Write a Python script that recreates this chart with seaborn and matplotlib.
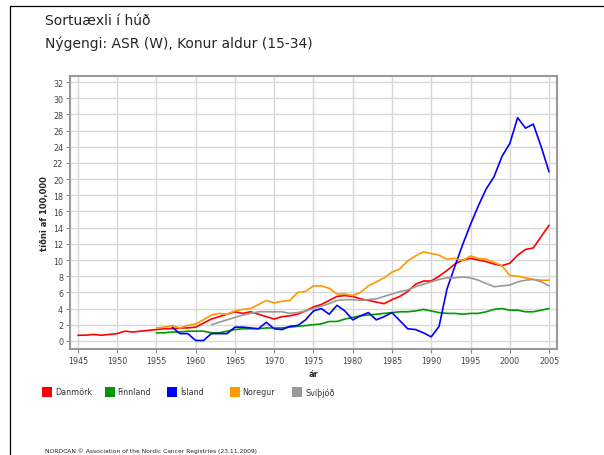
import matplotlib
matplotlib.use("Agg")
import matplotlib.pyplot as plt
from matplotlib.patches import Rectangle
from matplotlib.lines import Line2D
import matplotlib.ticker as ticker
import seaborn as sns
import pandas as pd

# values (incidence per 100,000)
danmork_years = list(range(1945, 2006))
danmork = [0.7, 0.7, 0.8, 0.7, 0.8, 0.9, 1.2, 1.1, 1.2, 1.3,
           1.4, 1.5, 1.5, 1.6, 1.6, 1.7, 2.2, 2.7, 3.0, 3.3,
           3.6, 3.4, 3.6, 3.3, 3.0, 2.7, 3.0, 3.1, 3.3, 3.7,
           4.2, 4.5, 5.0, 5.5, 5.6, 5.5, 5.2, 5.0, 4.8, 4.6,
           5.1, 5.5, 6.1, 7.0, 7.4, 7.4, 8.0, 8.7, 9.5, 10.0,
           10.2, 10.0, 9.8, 9.5, 9.3, 9.6, 10.6, 11.3, 11.5, 12.9,
           14.3]

finnland_years = list(range(1955, 2006))
finnland = [1.0, 1.0, 1.1, 1.1, 1.2, 1.2, 1.2, 1.0, 1.0, 1.2,
            1.4, 1.5, 1.5, 1.5, 1.6, 1.6, 1.6, 1.7, 1.8, 1.9,
            2.0, 2.1, 2.4, 2.4, 2.7, 2.9, 3.1, 3.2, 3.3, 3.4,
            3.5, 3.6, 3.6, 3.7, 3.9, 3.7, 3.5, 3.4, 3.4, 3.3,
            3.4, 3.4, 3.6, 3.9, 4.0, 3.8, 3.8, 3.6, 3.6, 3.8,
            4.0]

island_years = list(range(1957, 2006))
island = [1.7, 0.9, 0.9, 0.05, 0.05, 0.9, 0.9, 0.9,
          1.7, 1.7, 1.6, 1.5, 2.3, 1.5, 1.4, 1.8, 1.9, 2.6,
          3.7, 4.0, 3.3, 4.4, 3.7, 2.6, 3.1, 3.5, 2.6, 3.0,
          3.5, 2.5, 1.5, 1.4, 1.0, 0.5, 1.8, 6.4, 9.2, 11.9,
          14.4, 16.7, 18.8, 20.3, 22.8, 24.4, 27.6, 26.3, 26.8, 24.0,
          20.9]

noregur_years = list(range(1955, 2006))
noregur = [1.6, 1.7, 1.9, 1.6, 1.9, 2.1, 2.6, 3.2, 3.4, 3.3,
           3.7, 3.9, 4.0, 4.5, 5.0, 4.7, 4.9, 5.0, 6.0, 6.1,
           6.8, 6.8, 6.5, 5.8, 5.8, 5.6, 6.0, 6.8, 7.3, 7.8,
           8.5, 8.9, 9.9, 10.5, 11.0, 10.8, 10.6, 10.1, 10.2, 9.9,
           10.5, 10.2, 10.1, 9.7, 9.3, 8.1, 8.0, 7.8, 7.6, 7.5,
           7.5]

svithjod_years = list(range(1962, 2006))
svithjod = [2.0, 2.3, 2.6, 2.9, 3.2, 3.4, 3.6, 3.6, 3.6, 3.6,
            3.4, 3.5, 3.7, 4.0, 4.3, 4.6, 5.0, 5.1, 5.1, 5.0,
            5.1, 5.2, 5.5, 5.8, 6.1, 6.3, 6.7, 7.0, 7.3, 7.6,
            7.8, 7.8, 7.9, 7.8, 7.5, 7.1, 6.7, 6.8, 6.9, 7.3,
            7.5, 7.6, 7.3, 6.8]

countries = ["Danmörk", "Finnland", "Ísland", "Noregur", "Svíþjóð"]
colors = ["#ff0000", "#009900", "#0000ff", "#ff9900", "#999999"]

frames = []
for name, yrs, vals in zip(countries,
                           [danmork_years, finnland_years, island_years, noregur_years, svithjod_years],
                           [danmork, finnland, island, noregur, svithjod]):
    frames.append(pd.DataFrame({"ar": yrs, "value": vals, "land": name}))
df = pd.concat(frames, ignore_index=True)

sns.set_theme(style="whitegrid")
plt.rcParams['font.family'] = ['DejaVu Sans']

fig = plt.figure(figsize=(6.04, 4.56), dpi=100)
ax = fig.add_axes([0.1159, 0.2325, 0.8061, 0.5986])

sns.lineplot(data=df, x="ar", y="value", hue="land", hue_order=countries,
             palette=colors, linewidth=1.2, ax=ax, legend=False)

ax.set_xlim(1944, 2006)
ax.set_ylim(-1, 32.75)
ax.xaxis.set_major_locator(ticker.MultipleLocator(5))
ax.yaxis.set_major_locator(ticker.MultipleLocator(2))
ax.grid(True, color="#d8d8d8", linewidth=1.0)
for s in ax.spines.values():
    s.set_color("#999999")
    s.set_linewidth(1.5)
ax.tick_params(axis="both", which="major", length=3, width=0.8, color="#888888",
               labelsize=5.8, labelcolor="#444444", pad=2, bottom=True, left=True)
ax.set_xlabel("ár", fontsize=6, fontweight="bold", labelpad=3)
ax.set_ylabel("tíðni af 100,000", fontsize=6, fontweight="bold", labelpad=3)

# title
fig.text(0.075, 0.955, "Sortuæxli í húð", fontsize=10, va="center", ha="left")
fig.text(0.075, 0.905, "Nýgengi: ASR (W), Konur aldur (15-34)", fontsize=10, va="center", ha="left")

# legend row with equal spacing
for i, (name, c) in enumerate(zip(countries, colors)):
    x0 = 42 + i * 62.5
    fig.add_artist(Rectangle((x0 / 604, 1 - 398 / 456), 10 / 604, 10 / 456,
                             transform=fig.transFigure, facecolor=c, edgecolor="none"))
    fig.text((x0 + 13) / 604, 1 - 393 / 456, name, fontsize=5.8, color="#333333",
             va="center", ha="left")

fig.text(45 / 604, 1 - 451 / 456,
         "NORDCAN © Association of the Nordic Cancer Registries (23.11.2009)",
         fontsize=4.3, color="#222222", va="center", ha="left")

# outer frame lines (left and top)
fig.add_artist(Line2D([9.5 / 604, 9.5 / 604], [0, 1 - 7 / 456], transform=fig.transFigure,
                      color="black", linewidth=0.9))
fig.add_artist(Line2D([9.5 / 604, 1], [1 - 7 / 456, 1 - 7 / 456], transform=fig.transFigure,
                      color="black", linewidth=0.9))

plt.savefig("out.png", dpi=100)
plt.close(fig)
